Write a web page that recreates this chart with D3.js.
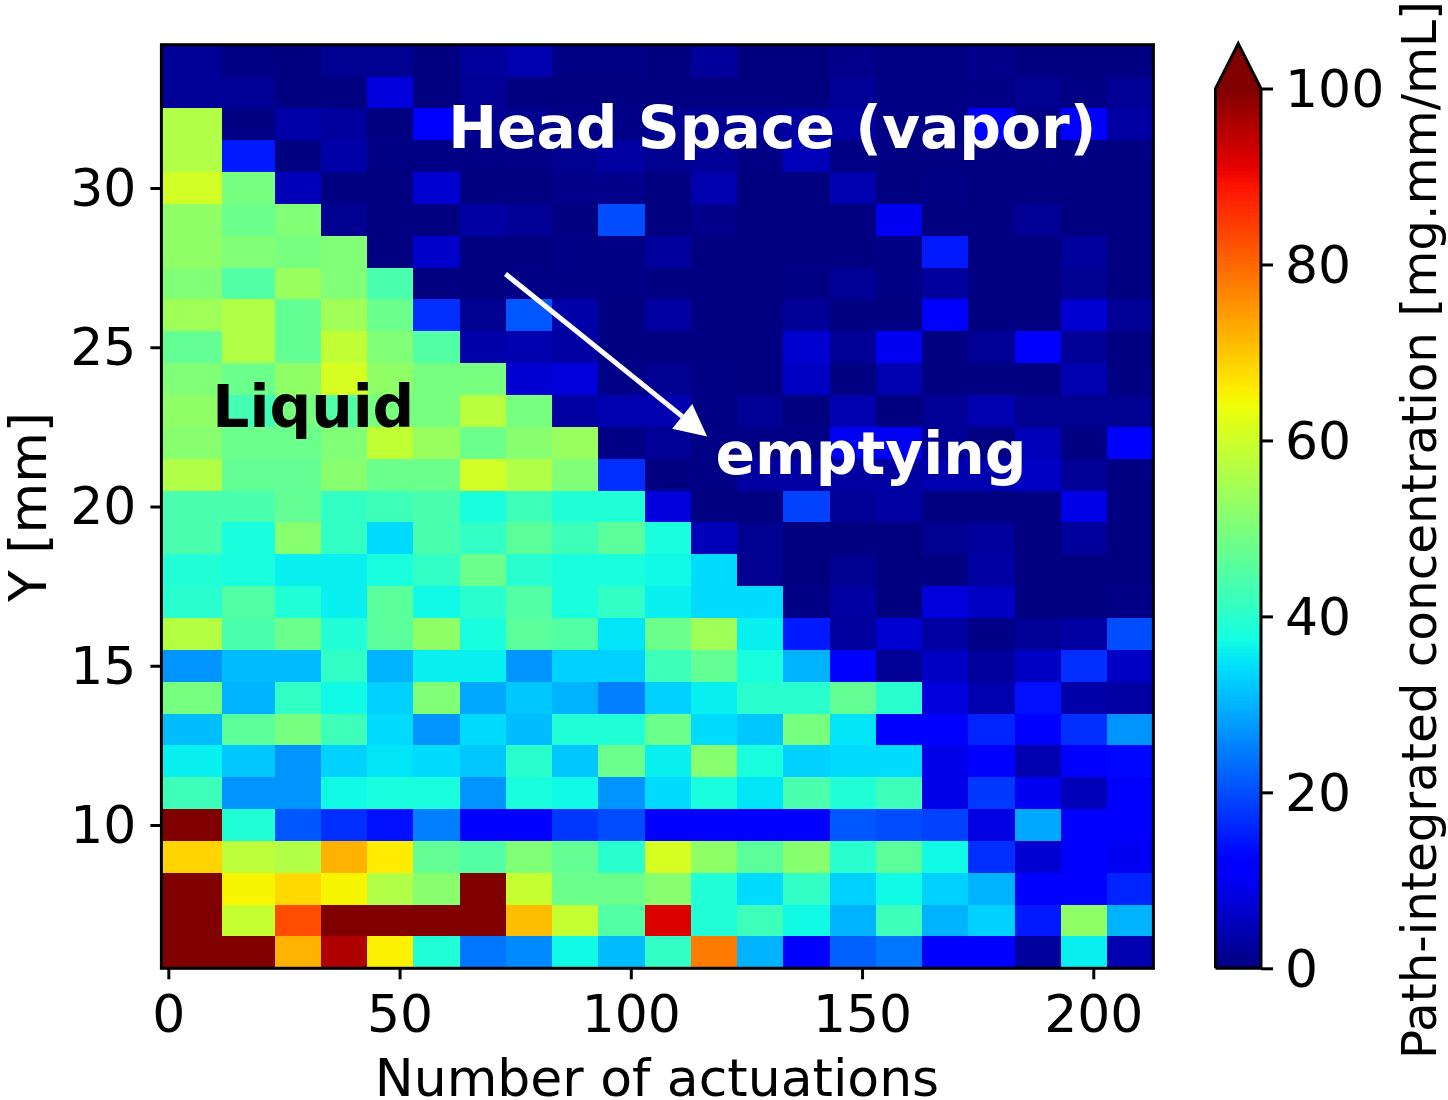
<!DOCTYPE html>
<html><head><meta charset="utf-8">
<script src="https://cdn.jsdelivr.net/npm/d3@7"></script>
<style>html,body{margin:0;padding:0;background:#fff}svg{display:block}text{font-family:"DejaVu Sans",sans-serif}</style>
</head><body><svg id="c" width="1448" height="1100"></svg>
<script>
const xEdges=[-1.5,11.5,23,33,43,53,63,73,83,93,103,113,123,133,143,153,163,173,183,193,203,213];
const yCenters=[34,33,32,31,30,29,28,27,26,25,24,23,22,21,20,19,18,17,16,15,14,13,12,11,10,9,8,7,6];
const xTicks=[0,50,100,150,200];
const yTicks=[10,15,20,25,30];
const cbTicks=[0,20,40,60,80,100];
const r34=[2,.4,0,1.5,1.5,.1,2.5,4,.6,.6,.1,2.5,.1,.1,1,.6,.6,1,.1,.1,.1];
const r33=[2,2,.1,.1,8,.1,2,.1,.1,.1,0,.1,.1,.1,2,.4,.4,.6,1.5,.4,2];
const r32=[56.5,.2,3.5,2.5,0,12,1.5,1.5,.6,.6,1.5,2,2,3,3,.6,.6,11,.6,11,3];
const r31=[56.5,15,.2,3.5,.4,.4,.6,.6,1.5,3,1.5,2,.4,5,.4,.2,.2,.2,.2,.2,.2];
const r30=[60.5,49.5,5,.2,.1,7,0,.1,1,1,0,4,0,0,4,0,.6,0,0,0,0];
const r29=[52.5,48,50.5,1.5,0,.1,3,2,0,20,0,1,0,0,.1,10,0,0,2,0,0];
const r28=[52.5,50.5,49.5,50.5,.1,6.5,0,0,.6,.4,2.5,0,0,0,0,.6,15,0,.1,2.5,0];
const r27=[50.5,45,53.5,50.5,44,0,0,.6,.6,.6,.2,.2,.2,.5,2,.6,2.5,0,0,1.5,.1];
const r26=[54.5,56.5,47,54.5,48,17,1.5,21,3.5,.2,3,.2,.2,2,.2,.2,11,0,.1,7,2];
const r25=[47,56.5,47,58.5,50.5,45,3.5,4,3,.2,.2,.2,.2,7,2,10,.1,2,11,2,.1];
const r24=[50.5,48,52.5,61,52.5,49.5,49.5,7,8,.6,1.5,.6,.2,6,.2,4,.2,.2,.2,4,.2];
const r23=[52.5,43,49.5,45,49.5,49.5,57.5,49.5,3,4,4,.4,2,.1,4,.1,2,4,1.5,1.5,1.5];
const r22=[51.5,48,48,50.5,58.5,53.5,48,51.5,53.5,.6,2,.6,.6,.6,10,10,2,.2,5,.2,11];
const r21=[56.5,47,47,51.5,48,48,60.5,56.5,50.5,17,.1,.4,3,3,3,3,4,4,6,2,.2];
const r20=[44,44,47,41,42.5,44,38,42.5,39,39,8,0,0,19,2,3,0,0,0,9,0];
const r19=[44,38,51.5,41,34,44,41,46,42.5,46,38,5,1.5,0,0,0,1.5,2.5,0,2.5,0];
const r18=[39,38,36,36,38,41,48,40,38,38,37,34,1.5,0,1.5,0,0,3,0,0,0];
const r17=[40,45,39,36,46,37,40,45,38,41,36,34,34,.6,3,0,8,6,0,0,.6];
const r16=[57,44,48,39,46,52.5,38,46,45,35,48,54.5,36,15,2.5,7,3,.6,2,3,20];
const r15=[27,31,31,41,30,36,36,27,33,33,42.5,47,38,30,11,2,6,2.5,6,17,6];
const r14=[49.5,30,41,37,33,50.5,29,32,30,25,33,36,40,40,47,40,8,4,14,3.5,3];
const r13=[31,46,49.5,42.5,34,27,34,31,39,39,48,34,32,49.5,35,11,12,16,11,17,27];
const r12=[36,32,27,33,35,34,32,40,32,48,36,51.5,38,33,34,34,9,11,4,11,13];
const r11=[42.5,27,27,37,38,38,27,38,37,27,34,38,35,44,39,42.5,9,18,10,5,11];
const r10=[105,39,21,17,14,25,11,11,18,20,11.5,11.5,12.5,12.5,21,20,19,8.5,29,11.5,11.5];
const r9=[68.5,58,56.5,72,66,47,45,50.5,47,40,61,52.5,46,51.5,40,46,37,17,7,11.5,10];
const r8=[105,65,68,65,56.5,51.5,105,59,48,48,51.5,39,34,41,33,37,33,30,11.5,11.5,16];
const r7=[105,59,83,105,105,105,105,71,59,45,92,39,42.5,37,30,42.5,30,33,15,52.5,30];
const r6=[105,105,72,96,65.5,39,24,26,37,31,41,78,30,11,22,24,11,11,2.5,36,4];
const rows=[r34,r33,r32,r31,r30,r29,r28,r27,r26,r25,r24,r23,r22,r21,r20,r19,r18,r17,r16,r15,r14,r13,r12,r11,r10,r9,r8,r7,r6];
const annotations=[
 {text:"Head Space (vapor)",x:60.5,y:31.26,color:"#fff"},
 {text:"Liquid",x:9.5,y:22.49,color:"#000"},
 {text:"emptying",x:118.3,y:21.01,color:"#fff"}];
const arrowFrom=[72.9,27.3], arrowTo=[116.5,22.2];

const svg=d3.select("#c");
const x=d3.scaleLinear().domain([-1.5,213]).range([161.4,1153.4]);
const y=d3.scaleLinear().domain([5.5,34.5]).range([968.3,44.7]);
const R=d3.scaleLinear().domain([0,.35,.66,.89,1]).range([0,0,1,1,.5]).clamp(true);
const G=d3.scaleLinear().domain([0,.125,.375,.64,.91,1]).range([0,0,1,1,0,0]).clamp(true);
const B=d3.scaleLinear().domain([0,.11,.34,.65,1]).range([.5,1,1,0,0]).clamp(true);
const norm=d3.scaleLinear().domain([0,100]).range([0,1]).clamp(true);
const jet=v=>{const t=norm(v);return d3.rgb(R(t)*255,G(t)*255,B(t)*255).formatHex();};

const cells=rows.flatMap((r,i)=>r.map((v,j)=>({v,j,yc:yCenters[i]})));
svg.append("g").attr("shape-rendering","crispEdges").selectAll("rect").data(cells).join("rect")
 .attr("x",d=>x(xEdges[d.j]))
 .attr("width",d=>x(xEdges[d.j+1])-x(xEdges[d.j]))
 .attr("y",d=>y(d.yc+.5))
 .attr("height",d=>y(d.yc-.5)-y(d.yc+.5))
 .attr("fill",d=>jet(d.v));

const FS=52;
function styleAxis(g){
 g.select(".domain").remove();
 g.selectAll(".tick line").attr("stroke","#000").attr("stroke-width",3);
 g.selectAll(".tick text").attr("font-size",FS).attr("fill","#000").attr("font-family","DejaVu Sans");
}
svg.append("g").attr("transform","translate(0,968.3)")
 .call(d3.axisBottom(x).tickValues(xTicks).tickSize(11).tickPadding(16).tickFormat(d3.format("d"))).call(styleAxis);
svg.append("g").attr("transform","translate(161.4,0)")
 .call(d3.axisLeft(y).tickValues(yTicks).tickSize(11).tickPadding(14).tickFormat(d3.format("d"))).call(styleAxis)
 .selectAll(".tick text").attr("transform","translate(0,0.8)");
svg.append("rect").attr("x",x.range()[0]).attr("y",y.range()[1]).attr("width",x.range()[1]-x.range()[0]).attr("height",y.range()[0]-y.range()[1])
 .attr("fill","none").attr("stroke","#000").attr("stroke-width",3);

// annotations
svg.append("g").selectAll("text").data(annotations).join("text")
 .attr("x",d=>x(d.x)).attr("y",d=>y(d.y)).attr("fill",d=>d.color)
 .attr("font-size",58.3).attr("font-weight","bold").text(d=>d.text);
const ax0=x(arrowFrom[0]),ay0=y(arrowFrom[1]),ax1=x(arrowTo[0]),ay1=y(arrowTo[1]);
const ang=Math.atan2(ay1-ay0,ax1-ax0),hl=32,hw=16;
const bx=ax1-hl*Math.cos(ang),by=ay1-hl*Math.sin(ang);
svg.append("line").attr("x1",ax0).attr("y1",ay0).attr("x2",bx).attr("y2",by).attr("stroke","#fff").attr("stroke-width",5);
svg.append("polygon").attr("fill","#fff").attr("points",[[ax1,ay1],[bx-hw*Math.sin(ang),by+hw*Math.cos(ang)],[bx+hw*Math.sin(ang),by-hw*Math.cos(ang)]].join(" "));

// labels
svg.append("text").attr("x",657).attr("y",1096).attr("text-anchor","middle").attr("font-size",FS).text("Number of actuations");
svg.append("text").attr("transform","translate(46,507) rotate(-90)").attr("text-anchor","middle").attr("font-size",FS).text("Y [mm]");

// colorbar
const cbX0=1215.5,cbX1=1261;
const cy=d3.scaleLinear().domain([0,100]).range([968.3,88.5]);
const steps=d3.range(0,256).map(i=>i/256*100);
svg.append("g").attr("shape-rendering","crispEdges").selectAll("rect").data(steps).join("rect")
 .attr("x",cbX0).attr("width",cbX1-cbX0)
 .attr("y",d=>cy(d+100/256)).attr("height",d=>cy(d)-cy(d+100/256)+.5)
 .attr("fill",d=>jet(d+50/256));
const tipY=cy(105.1);
const outlineTop=[[cbX0,cy(100)],[(cbX0+cbX1)/2,tipY],[cbX1,cy(100)]];
svg.append("polygon").attr("points",[[cbX0,cy(99.7)],...outlineTop,[cbX1,cy(99.7)]].join(" ")).attr("fill",jet(105));
svg.append("path").attr("fill","none").attr("stroke","#000").attr("stroke-width",3)
 .attr("d",d3.line()([[cbX0,cy(0)],...outlineTop,[cbX1,cy(0)],[cbX0,cy(0)]]));
svg.append("g").attr("transform",`translate(${cbX1},0)`)
 .call(d3.axisRight(cy).tickValues(cbTicks).tickSize(12).tickPadding(12).tickFormat(d3.format("d"))).call(styleAxis)
 .selectAll(".tick text").attr("transform","translate(0,1.5)");
svg.append("text").attr("transform","translate(1436,530) rotate(-90)").attr("text-anchor","middle").attr("font-size",48.4).text("Path-integrated concentration [mg.mm/mL]");
</script></body></html>
